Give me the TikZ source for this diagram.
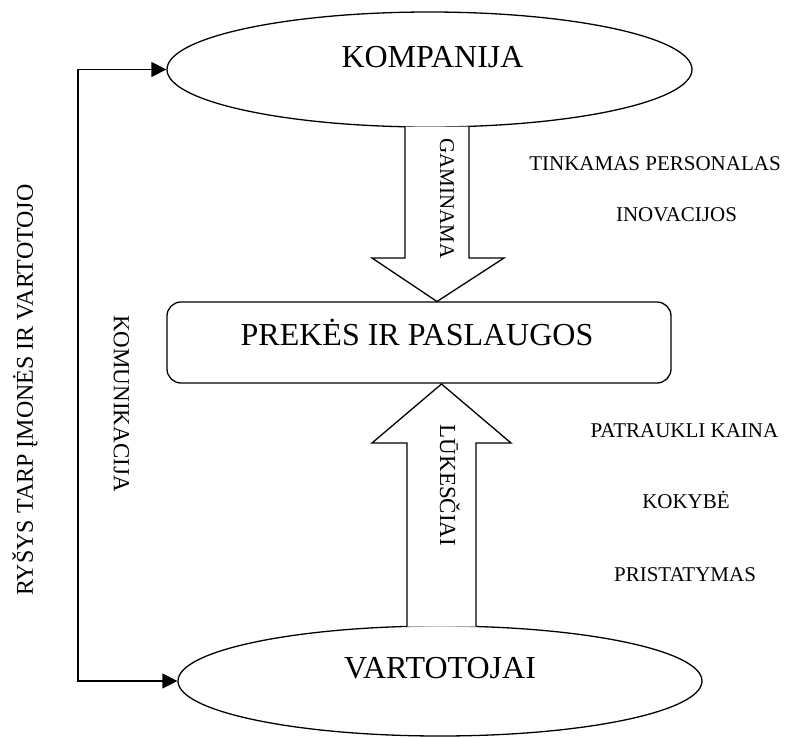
\documentclass[tikz,border=0pt]{standalone}
\usepackage{fontspec}
\setmainfont{Liberation Serif}
\usetikzlibrary{shapes.geometric,arrows.meta}
\begin{document}
\begin{tikzpicture}[x=1pt,y=-1pt,line width=1.3pt,
  bigtext/.style={font=\fontsize{32}{36}\selectfont},
  sidetext/.style={font=\fontsize{21}{24}\selectfont},
  vtext/.style={font=\fontsize{23}{26}\selectfont},
  oval/.style={draw,ellipse,inner sep=0pt},
  blockarrow/.style={draw,fill=white,line join=miter},
  link/.style={-{Triangle[length=15pt,width=15pt]},line join=miter}]
\useasboundingbox (0,0) rectangle (785,737);

% main shapes
\node[oval,minimum width=525,minimum height=115] (komp) at (429.5,69.5) {};
\node[draw,rounded corners=14pt,minimum width=504,minimum height=81,inner sep=0pt] (preke) at (419,342.5) {};
\node[oval,minimum width=524,minimum height=110] (vart) at (440,681) {};

% centred titles
\node[bigtext,anchor=base,inner sep=0pt] (kompt) at (432.5,67) {KOMPANIJA};
\node[bigtext,anchor=base,inner sep=0pt] (preket) at (417,345) {PREKĖS IR PASLAUGOS};
\node[bigtext,anchor=base,inner sep=0pt] (vartt) at (440,678) {VARTOTOJAI};

% block arrow: company -> goods
\draw[blockarrow] (405,126.5) -- (405,258) -- (372,258) -- (437,301.5)
  -- (504,258) -- (469,258) -- (469,126.5);
% block arrow: consumers -> goods
\draw[blockarrow] (407,626.5) -- (407,443) -- (372,443) -- (441.5,384)
  -- (511,443) -- (476,443) -- (476,626.5);

\node[font=\fontsize{21}{24}\selectfont,rotate=-90,inner sep=0pt] (gam) at (447,198.5) {GAMINAMA};
\node[vtext,rotate=-90,inner sep=0pt] (luk) at (450,485.5) {LŪKESČIAI};

% side notes
\node[sidetext,anchor=base,inner sep=0pt] (t1) at (655,170) {TINKAMAS PERSONALAS};
\node[sidetext,anchor=base,inner sep=0pt] (t2) at (676.5,221) {INOVACIJOS};
\node[sidetext,anchor=base,inner sep=0pt] (t3) at (684.5,437) {PATRAUKLI KAINA};
\node[sidetext,anchor=base,inner sep=0pt] (t4) at (686,508) {KOKYBĖ};
\node[sidetext,anchor=base,inner sep=0pt] (t5) at (685,581) {PRISTATYMAS};

% communication link on the left
\coordinate (bend1) at (78,69.5);
\coordinate (bend2) at (78,681);
\draw[link] (bend2) -- (bend1) -- (komp.west);
\draw[link] (bend1) -- (bend2) -- (vart.west);

\node[vtext,rotate=-90,inner sep=0pt] (kom) at (121.5,403.5) {KOMUNIKACIJA};
\node[font=\fontsize{24}{27}\selectfont,rotate=90,inner sep=0pt] (rys) at (25,390) {RYŠYS TARP ĮMONĖS IR VARTOTOJO};
\end{tikzpicture}
\end{document}
